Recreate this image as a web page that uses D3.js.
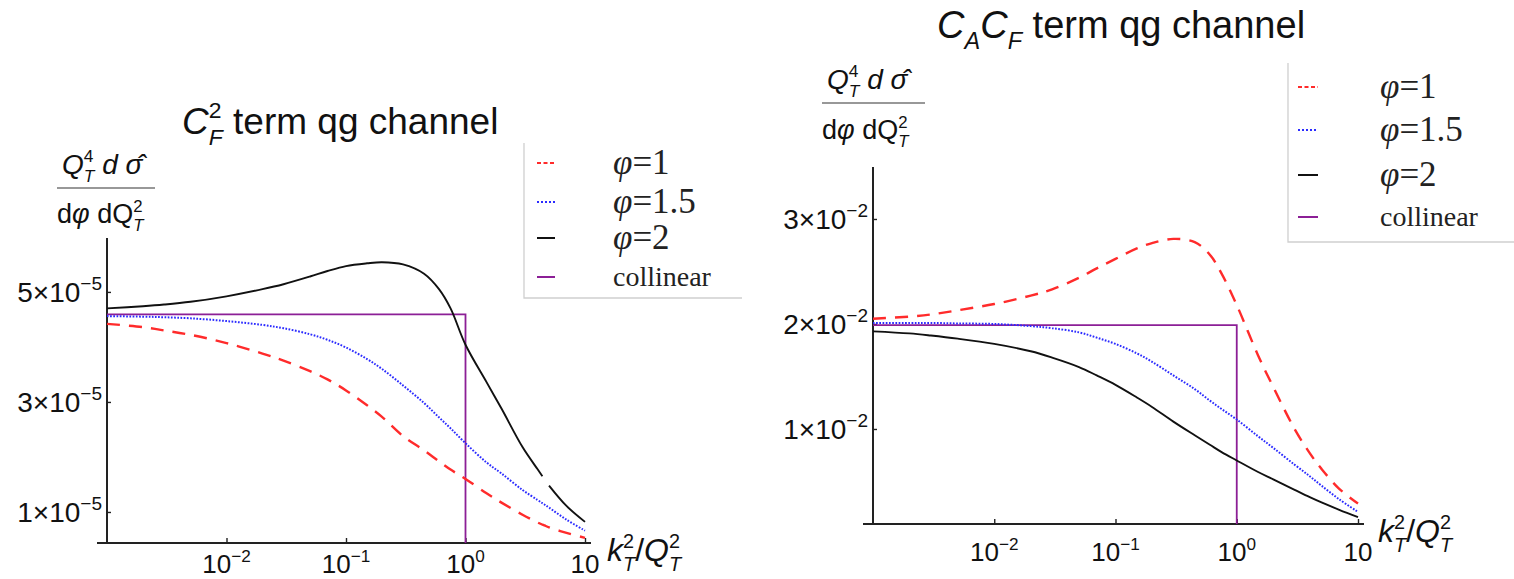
<!DOCTYPE html>
<html><head><meta charset="utf-8">
<script src="https://cdn.jsdelivr.net/npm/d3@7/dist/d3.min.js"></script>
<style>body{margin:0;background:#fff}svg{display:block}</style>
</head><body>
<svg id="c" width="1514" height="579"></svg>
<script>
// ---------------- data ----------------
// Left panel: C_F^2 term, values in units of 1e-5
const xLeft = [0.001,0.002,0.003,0.005,0.01,0.02,0.03,0.05,0.07,0.1,0.15,0.2,0.3,0.45,0.6,0.75,1,1.5,2,3,4,4.4,4.7,5,7,10];
const leftPhi1  = [4.42,4.36,4.30,4.22,4.07,3.88,3.75,3.56,3.41,3.21,2.94,2.73,2.38,2.12,1.92,1.77,1.60,1.34,1.17,0.95,0.81,0.77,0.745,0.72,0.62,0.53];
const leftPhi15 = [4.56,4.55,4.54,4.52,4.47,4.40,4.34,4.23,4.13,3.99,3.78,3.60,3.30,2.98,2.72,2.52,2.25,1.90,1.70,1.40,1.22,1.16,1.12,1.08,0.86,0.66];
const leftPhi2  = [4.70,4.74,4.77,4.82,4.92,5.05,5.14,5.28,5.38,5.47,5.52,5.54,5.50,5.33,5.05,4.70,4.04,3.36,2.88,2.18,1.78,1.65,null,1.48,1.11,0.82];
const leftCollX = [0.001,1,1];
const leftCollY = [4.59,4.59,0.436];
const leftYDomain = [0.436,5.98];
const leftYTicks = [1,3,5];
const leftYTickLabels = [["1×10","−5"],["3×10","−5"],["5×10","−5"]];

// Right panel: C_A C_F term, values in units of 1e-2
const xRight = [0.001,0.002,0.003,0.005,0.01,0.02,0.03,0.05,0.07,0.1,0.15,0.2,0.3,0.45,0.6,0.75,1,1.5,2,3,4,5,7,10];
const rightPhi1  = [2.05,2.07,2.09,2.13,2.19,2.27,2.33,2.44,2.53,2.62,2.72,2.77,2.81,2.78,2.66,2.48,2.18,1.70,1.40,1.00,0.77,0.62,0.43,0.29];
const rightPhi15 = [2.01,2.01,2.01,2.005,2.00,1.98,1.96,1.92,1.87,1.81,1.72,1.64,1.51,1.38,1.27,1.19,1.09,0.93,0.82,0.66,0.55,0.46,0.33,0.21];
const rightPhi2  = [1.93,1.91,1.89,1.86,1.81,1.74,1.68,1.59,1.51,1.42,1.30,1.21,1.07,0.94,0.85,0.78,0.70,0.59,0.52,0.42,0.35,0.30,0.23,0.16];
const rightCollX = [0.001,1,1];
const rightCollY = [1.99,1.99,0.095];
const rightYDomain = [0.095,3.495];
const rightYTicks = [1,2,3];
const rightYTickLabels = [["1×10","−2"],["2×10","−2"],["3×10","−2"]];

const xDomain = [0.001,10];
const xTicks = [0.01,0.1,1,10];
const xTickLabels = [["10","−2"],["10","−1"],["10","0"],["10",""]];

const seriesNames = ["φ=1","φ=1.5","φ=2","collinear"];
// ---------------- styles ----------------
const RED="#ff2b2b", BLUE="#2b2bff", BLACK="#111111", PURPLE="#8c1f96";
const styles = [
  {color:RED,   width:2.4, dash:"13,9",    legDash:"4,2.5"},
  {color:BLUE,  width:2.0, dash:"1.7,1.5", legDash:"2,2"},
  {color:BLACK, width:1.9, dash:null,      legDash:null},
  {color:PURPLE,width:1.8, dash:null,      legDash:null}
];
const SANS = "'Liberation Sans', Arial, Helvetica, sans-serif";
const SERIF = "'Liberation Serif', 'Times New Roman', serif";

const svg = d3.select("#c");

function rich(parent, x, y, parts, o) {
  const fs = o.size, fam = o.family || SANS;
  const g = parent.append("g");
  let cx = 0;
  const mk = (str, size, italic, dy, px) => {
    const t = g.append("text").attr("x", px).attr("y", dy).attr("font-size", size)
      .attr("font-family", fam).attr("font-style", italic ? "italic" : "normal")
      .attr("fill", o.color || "#111").style("white-space","pre").text(str);
    return t.node().getComputedTextLength();
  };
  parts.forEach(p => {
    if (p.t !== undefined) cx += mk(p.t, p.size || fs, p.i, p.dy || 0, cx);
    else {
      const ss = fs * (o.scriptScale || 0.62);
      let w = 0;
      if (p.sup !== undefined) w = Math.max(w, mk(p.sup, ss, p.supI, -fs*(o.supUp||0.42), cx));
      if (p.sub !== undefined) w = Math.max(w, mk(p.sub, ss, p.subI, fs*(o.subDown||0.30), cx));
      cx += w + (p.gap || 0);
    }
  });
  const off = o.anchor === "middle" ? -cx/2 : o.anchor === "end" ? -cx : 0;
  g.attr("transform", `translate(${x+off},${y})`);
  return cx;
}

function panel(cfg) {
  const x = d3.scaleLog().domain(xDomain).range(cfg.xRange);
  const y = d3.scaleLinear().domain(cfg.yDomain).range(cfg.yRange);
  const g = svg.append("g");

  // axes
  const ax = g.append("g").attr("transform", `translate(0,${cfg.yRange[0]})`)
    .call(d3.axisBottom(x).tickValues(xTicks).tickSize(-5).tickFormat(""));
  ax.select(".domain").remove();
  ax.selectAll(".tick line").attr("stroke", "#222").attr("stroke-width", 1.4);
  const ay = g.append("g").attr("transform", `translate(${cfg.xRange[0]},0)`)
    .call(d3.axisLeft(y).tickValues(cfg.yTicks).tickSize(-4).tickFormat(""));
  ay.select(".domain").remove();
  ay.selectAll(".tick line").attr("stroke", "#222").attr("stroke-width", 1.4);

  g.append("line").attr("x1", cfg.xRange[0]-10).attr("x2", cfg.xRange[1]+6)
    .attr("y1", cfg.yRange[0]).attr("y2", cfg.yRange[0]).attr("stroke", "#222").attr("stroke-width", 2);
  g.append("line").attr("x1", cfg.xRange[0]).attr("x2", cfg.xRange[0])
    .attr("y1", cfg.yRange[1]).attr("y2", cfg.yRange[0]).attr("stroke", "#222").attr("stroke-width", 2);

  // tick labels
  xTicks.forEach((t, i) => {
    const parts = [{t: xTickLabels[i][0]}];
    if (xTickLabels[i][1]) parts.push({sup: xTickLabels[i][1]});
    rich(g, x(t), cfg.yRange[0] + cfg.xLabOff, parts, {size: cfg.tickFs, anchor: "middle", supUp: 0.42, scriptScale: 0.66});
  });
  cfg.yTicks.forEach((t, i) => {
    rich(g, cfg.xRange[0] - 5, y(t) + cfg.yTickFs*0.36,
      [{t: cfg.yTickLabels[i][0]}, {sup: cfg.yTickLabels[i][1]}],
      {size: cfg.yTickFs, anchor: "end", supUp: 0.42, scriptScale: 0.68});
  });

  // curves
  const line = d3.line().defined(d => d[1] !== null)
    .x(d => x(d[0])).y(d => y(d[1])).curve(d3.curveCatmullRom.alpha(0.5));
  const sets = [cfg.s1, cfg.s15, cfg.s2];
  const order = [2, 1, 0];
  g.append("path").datum(cfg.collX.map((v, i) => [v, cfg.collY[i]]))
    .attr("d", d3.line().x(d => x(d[0])).y(d => y(d[1])))
    .attr("fill", "none").attr("stroke", styles[3].color).attr("stroke-width", styles[3].width);
  order.forEach(k => {
    const st = styles[k];
    g.append("path").datum(cfg.xs.map((v, i) => [v, sets[k][i]]))
      .attr("d", line).attr("fill", "none").attr("stroke", st.color)
      .attr("stroke-width", st.width).attr("stroke-dasharray", st.dash);
  });

  // x axis label k_T^2/Q_T^2
  rich(g, cfg.xlab[0], cfg.xlab[1],
    [{t:"k", i:true}, {sup:"2", sub:"T", subI:true}, {t:"/"}, {t:"Q", i:true}, {sup:"2", sub:"T", subI:true}],
    {size: cfg.xlabFs});

  // y axis label fraction
  const f = cfg.frac;
  rich(g, f.x + 5, f.lineY - 14,
    [{t:"Q", i:true}, {sup:"4", sub:"T", subI:true}, {t:" d ", i:true}, {t:"σ\u0302", i:true}],
    {size: f.fs + 1});
  g.append("line").attr("x1", f.x).attr("x2", f.x + f.w).attr("y1", f.lineY).attr("y2", f.lineY)
    .attr("stroke", "#333").attr("stroke-width", 1.2);
  rich(g, f.x, f.lineY + f.denOff,
    [{t:"d"}, {t:"φ", i:true}, {t:" dQ"}, {sup:"2", sub:"T", subI:true}],
    {size: f.fs});

  // title
  rich(g, cfg.title.x, cfg.title.y, cfg.title.parts, {size: cfg.title.fs});

  // legend
  const L = cfg.legend;
  g.append("path").attr("d", `M${L.x},${L.top}V${L.bottom}H${L.right}`)
    .attr("fill", "none").attr("stroke", "#cfcfcf").attr("stroke-width", 1.3);
  seriesNames.forEach((name, i) => {
    const st = styles[i];
    const ry = L.rows[i];
    g.append("line").attr("x1", L.sx).attr("x2", L.sx + L.sw).attr("y1", ry).attr("y2", ry)
      .attr("stroke", st.color).attr("stroke-width", 2).attr("stroke-dasharray", st.legDash);
    const coll = name === "collinear";
    const fs = coll ? L.fsc : L.fs;
    const parts = coll ? [{t: name}] : [{t:"φ", i:true}, {t: name.slice(1)}];
    rich(g, L.tx, ry + fs*0.32, parts, {size: fs, family: SERIF, color: "#222"});
  });
}

panel({
  xRange: [107, 585], yRange: [543, 238], yDomain: leftYDomain,
  yTicks: leftYTicks, yTickLabels: leftYTickLabels,
  xs: xLeft, s1: leftPhi1, s15: leftPhi15, s2: leftPhi2,
  collX: leftCollX, collY: leftCollY,
  tickFs: 26, yTickFs: 28, xLabOff: 30, xlabFs: 32, xlab: [607, 561],
  frac: {x: 57, w: 98, lineY: 188, fs: 27, denOff: 35},
  title: {x: 182, y: 134, fs: 37, parts: [{t:"C", i:true}, {sup:"2", sub:"F", subI:true}, {t:" term qg channel"}]},
  legend: {x: 524, top: 143, bottom: 298, right: 742, sx: 537, sw: 18, tx: 613, fs: 35, fsc: 28, rows: [163, 202, 238, 277]}
});
panel({
  xRange: [873, 1358], yRange: [524, 167], yDomain: rightYDomain,
  yTicks: rightYTicks, yTickLabels: rightYTickLabels,
  xs: xRight, s1: rightPhi1, s15: rightPhi15, s2: rightPhi2,
  collX: rightCollX, collY: rightCollY,
  tickFs: 26, yTickFs: 28, xLabOff: 37, xlabFs: 32, xlab: [1378, 542],
  frac: {x: 822, w: 103, lineY: 103, fs: 27, denOff: 36},
  title: {x: 937, y: 38, fs: 38, parts: [{t:"C", i:true}, {sub:"A", subI:true}, {t:"C", i:true}, {sub:"F", subI:true}, {t:" term qg channel"}]},
  legend: {x: 1288, top: 63, bottom: 242, right: 1514, sx: 1298, sw: 20, tx: 1380, fs: 35, fsc: 28, rows: [87, 130, 175, 217]}
});
</script>
</body></html>
